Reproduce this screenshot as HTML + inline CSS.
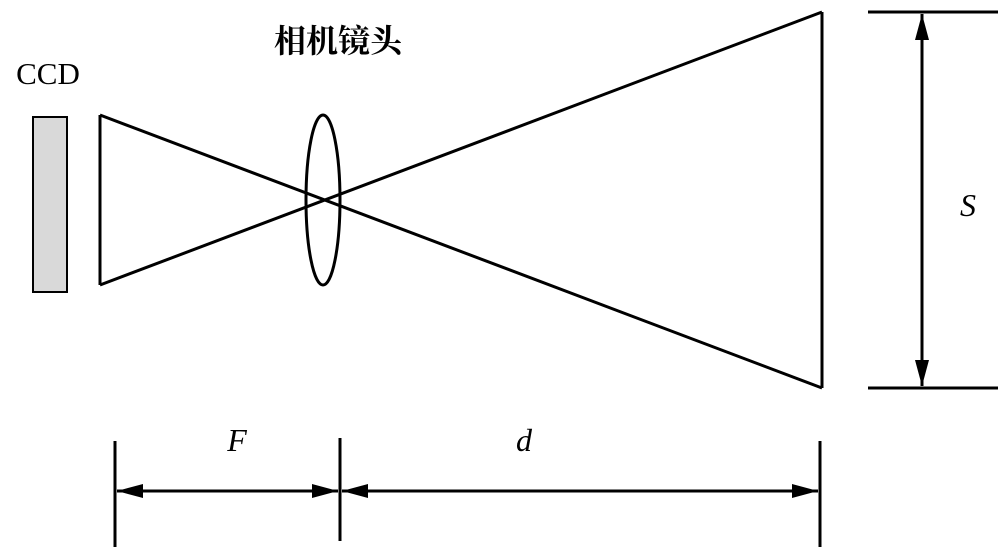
<!DOCTYPE html>
<html><head><meta charset="utf-8"><style>
html,body{margin:0;padding:0;background:#fff;width:1000px;height:547px;overflow:hidden}
</style></head><body>
<svg width="1000" height="547" viewBox="0 0 1000 547" xmlns="http://www.w3.org/2000/svg">
<defs>
<marker id="a" viewBox="0 0 26 14" refX="26" refY="7" markerWidth="26" markerHeight="14" markerUnits="userSpaceOnUse" orient="auto-start-reverse">
<path d="M0,0 L26,7 L0,14 z" fill="#000"/>
</marker>
</defs>
<g stroke="#000" stroke-width="3" fill="none">
<rect x="33" y="117" width="34" height="175" fill="#d9d9d9" stroke-width="2"/>
<line x1="100" y1="115" x2="100" y2="285"/>
<line x1="100" y1="115" x2="822" y2="388"/>
<line x1="100" y1="285" x2="822" y2="12"/>
<line x1="822" y1="12" x2="822" y2="388"/>
<ellipse cx="323" cy="200" rx="17" ry="85"/>
<line x1="868" y1="12" x2="998" y2="12"/>
<line x1="868" y1="388" x2="998" y2="388"/>
<line x1="922" y1="14" x2="922" y2="386" marker-start="url(#a)" marker-end="url(#a)"/>
<line x1="115" y1="441" x2="115" y2="547"/>
<line x1="340" y1="438" x2="340" y2="541"/>
<line x1="820" y1="441" x2="820" y2="547"/>
<line x1="117" y1="491" x2="338" y2="491" marker-start="url(#a)" marker-end="url(#a)"/>
<line x1="342" y1="491" x2="818" y2="491" marker-start="url(#a)" marker-end="url(#a)"/>
</g>
<text x="338" y="52" text-anchor="middle" font-family="Liberation Serif, Noto Serif CJK SC, serif" font-weight="bold" font-size="32">相机镜头</text>
<text x="48" y="84" text-anchor="middle" font-family="Liberation Serif, serif" font-size="31">CCD</text>
<text x="968" y="216" text-anchor="middle" font-family="Liberation Serif, serif" font-style="italic" font-size="32">S</text>
<text x="237" y="451" text-anchor="middle" font-family="Liberation Serif, serif" font-style="italic" font-size="32">F</text>
<text x="524" y="451" text-anchor="middle" font-family="Liberation Serif, serif" font-style="italic" font-size="32">d</text>
</svg>
</body></html>
